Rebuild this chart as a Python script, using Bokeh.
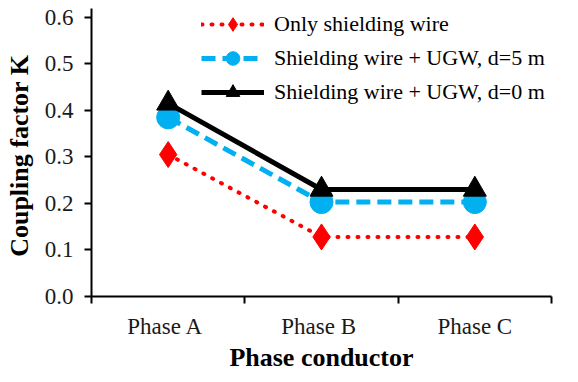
import numpy as np
from bokeh.plotting import figure
from bokeh.models import (Range1d, FixedTicker, Legend, LegendItem, NumeralTickFormatter)
from bokeh.embed import file_html
from bokeh.resources import INLINE

# ---- data ----
phases = ["Phase  A", "Phase  B", "Phase C"]
only_shielding = [0.305, 0.128, 0.128]
ugw_d5 = [0.385, 0.203, 0.203]
ugw_d0 = [0.415, 0.230, 0.230]
series_names = ["Only shielding wire", "Shielding wire + UGW, d=5 m", "Shielding wire + UGW, d=0 m"]
y_ticks = [0.0, 0.1, 0.2, 0.3, 0.4, 0.5, 0.6]

xs = [i + 0.5 for i in range(len(phases))]
bounds = list(range(len(phases) + 1))

FONT = "Liberation Serif"

p = figure(frame_width=460, height=374, output_backend="svg", toolbar_location=None,
           x_range=Range1d(0, len(phases)), y_range=Range1d(y_ticks[0], y_ticks[-1] + 0.019),
           min_border_left=91, min_border_right=12, min_border_top=8, min_border_bottom=0)
p.outline_line_color = None
p.xgrid.visible = False
p.ygrid.visible = False
p.background_fill_color = "white"
p.border_fill_color = "white"

# x axis: labels at category centres, ticks at category boundaries
p.xaxis.ticker = FixedTicker(ticks=xs, minor_ticks=bounds)
p.xaxis.major_label_overrides = {x: lab for x, lab in zip(xs, phases)}
p.xaxis.major_tick_out = 0
p.xaxis.major_tick_in = 0
p.xaxis.minor_tick_out = 7
p.xaxis.minor_tick_in = 0
p.xaxis.minor_tick_line_width = 2
p.xaxis.minor_tick_line_color = "black"
p.xaxis.axis_label = "Phase conductor"
p.xaxis.major_label_standoff = 10
p.xaxis.axis_label_standoff = 1

p.yaxis.ticker = FixedTicker(ticks=y_ticks, minor_ticks=[])
p.yaxis.formatter = NumeralTickFormatter(format="0.0")
p.yaxis.major_tick_out = 7
p.yaxis.major_tick_in = 0
p.yaxis.axis_label = "Coupling  factor K"
p.yaxis.major_label_standoff = 11
p.yaxis.axis_label_standoff = 8

for ax in (p.xaxis, p.yaxis):
    ax.axis_line_width = 2
    ax.axis_line_color = "black"
    ax.major_tick_line_width = 2
    ax.major_tick_line_color = "black"
    ax.major_label_text_font = FONT
    ax.major_label_text_font_size = "23px"
    ax.major_label_text_color = "#1a1a1a"
    ax.major_label_text_line_height = 0.9
    ax.axis_label_text_font = FONT
    ax.axis_label_text_font_style = "bold"
    ax.axis_label_text_font_size = "26px"
    ax.axis_label_text_color = "black"
    ax.axis_label_text_line_height = 0.9

# series
r_line = p.line(xs, only_shielding, line_color="#FF0000", line_width=4,
                line_dash="1 9", line_cap="round")
r_mk = p.scatter(xs, only_shielding, marker="diamond", size=26,
                 fill_color="#FF0000", line_color="#FF0000")
b_line = p.line(xs, ugw_d5, line_color="#00B0F0", line_width=5, line_dash="14 7")
b_mk = p.scatter(xs, ugw_d5, marker="circle", size=23,
                 fill_color="#00B0F0", line_color="#00B0F0")
k_line = p.line(xs, ugw_d0, line_color="black", line_width=5)
k_mk = p.scatter(xs, ugw_d0, marker="triangle", size=23,
                 fill_color="black", line_color="black")

legend = Legend(items=[
    LegendItem(label=series_names[0], renderers=[r_line, r_mk]),
    LegendItem(label=series_names[1], renderers=[b_line, b_mk]),
    LegendItem(label=series_names[2], renderers=[k_line, k_mk]),
], location=(110, 187))
legend.label_text_font = FONT
legend.label_text_font_size = "22px"
legend.label_text_color = "black"
legend.glyph_width = 63
legend.glyph_height = 34
legend.label_height = 30
legend.label_standoff = 10
legend.spacing = 0
legend.padding = 0
legend.margin = 0
legend.border_line_color = None
legend.background_fill_alpha = 0
p.add_layout(legend)

open("out.html", "w").write(file_html(p, INLINE))
